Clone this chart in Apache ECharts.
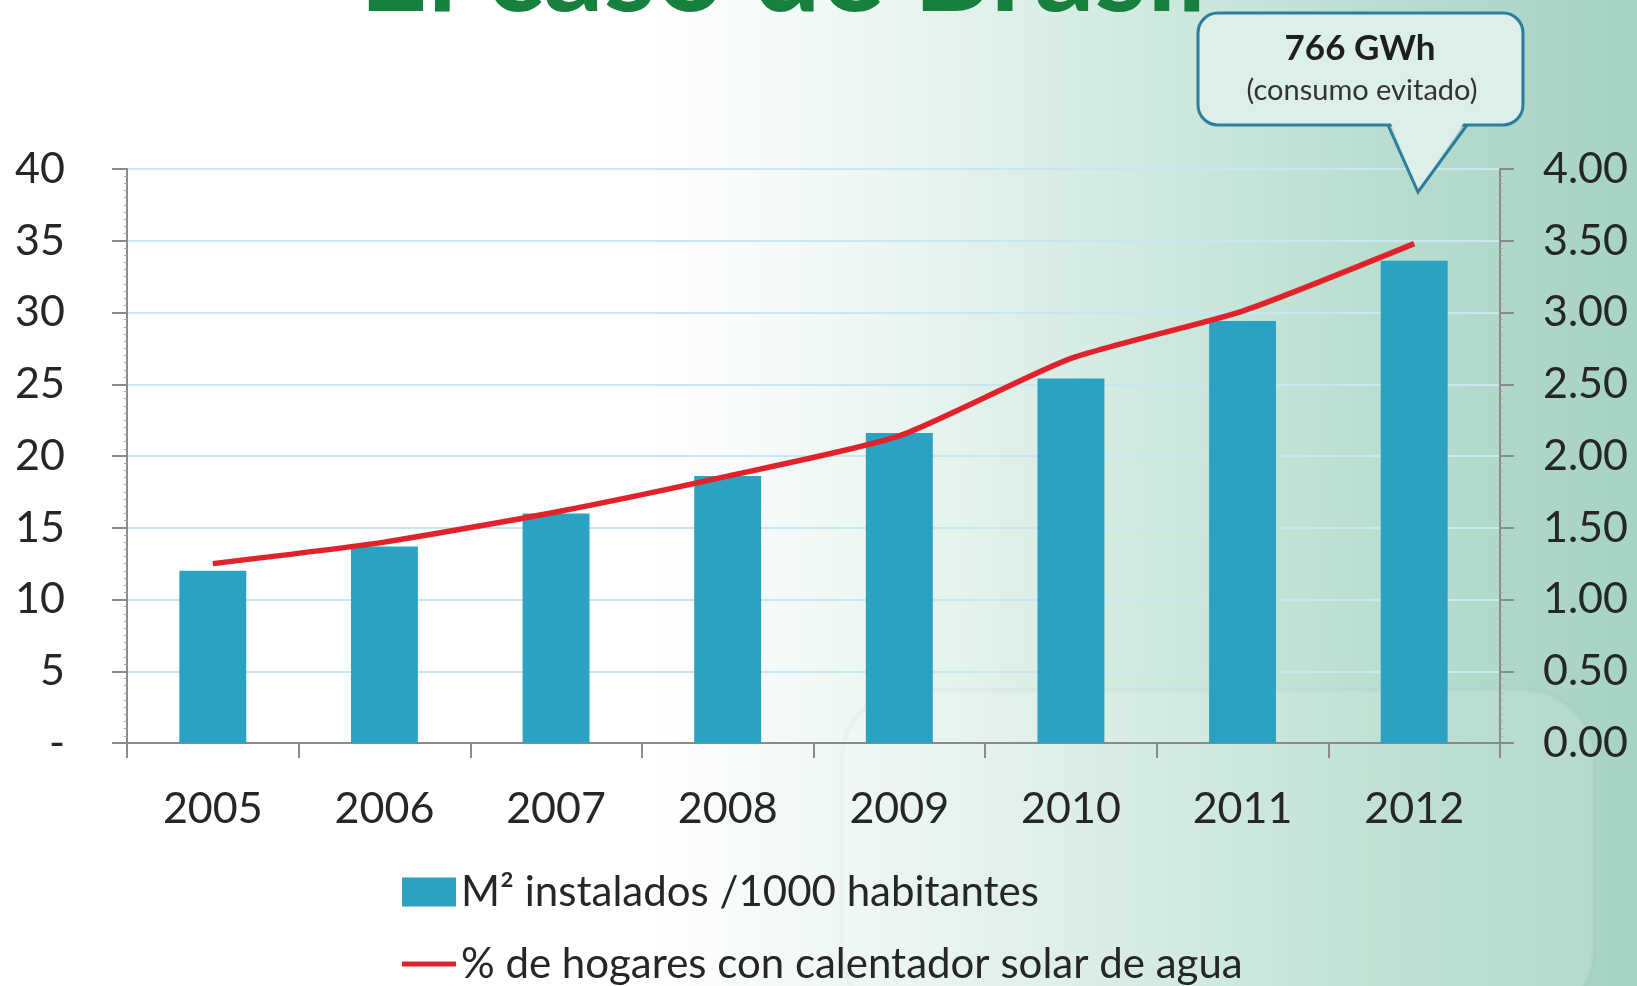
<!DOCTYPE html>
<html>
<head>
<meta charset="utf-8">
<script src="https://cdn.jsdelivr.net/npm/echarts@6/dist/echarts.min.js"></script>
<style>
  html, body { margin: 0; padding: 0; width: 1637px; height: 986px; overflow: hidden; }
  body {
    background: linear-gradient(90deg, #ffffff 0%, #ffffff 40%, #eef7f3 52%, #d4ebe2 68%, #b6dccd 86%, #a6d3c2 100%);
  }
  #chart { width: 1637px; height: 986px; }
</style>
</head>
<body>
<div id="chart"></div>
<script>
// Years on the category axis
const years = ['2005', '2006', '2007', '2008', '2009', '2010', '2011', '2012'];
// Installed m² of solar collectors per 1000 inhabitants (left axis)
const m2PerThousand = [12.0, 13.7, 16.0, 18.6, 21.6, 25.4, 29.4, 33.6];
// Share of households with a solar water heater, % (right axis)
const householdsPct = [1.25, 1.40, 1.61, 1.86, 2.14, 2.68, 3.01, 3.48];

const barName = 'M² instalados /1000 habitantes';
const lineName = '% de hogares con calentador solar de agua';

const FONT = 'Lato, "Open Sans", sans-serif';
const TEXT = '#262626';
const AXIS = '#8a8a8a';
const BUBBLE_FILL = '#dcefeb';
const BUBBLE_EDGE = '#2d7d9c';

const legendBase = {
  orient: 'horizontal',
  left: 397,
  itemWidth: 54,
  itemHeight: 29,
  textStyle: { fontFamily: FONT, fontSize: 42, color: TEXT }
};

const chart = echarts.init(document.getElementById('chart'), null, { renderer: 'canvas' });

chart.setOption({
  backgroundColor: 'transparent',
  animation: false,
  textStyle: { fontFamily: FONT },
  grid: { left: 127, right: 137, top: 169, bottom: 243, containLabel: false },
  legend: [
    Object.assign({}, legendBase, { top: 866, data: [{ name: barName, icon: 'rect' }] }),
    Object.assign({}, legendBase, { top: 938, data: [{ name: lineName, icon: 'path://M0,0 L54,0 L54,5 L0,5 Z' }] })
  ],
  xAxis: {
    type: 'category',
    data: years,
    axisLine: { lineStyle: { color: AXIS, width: 2 } },
    axisTick: { show: true, length: 15, lineStyle: { color: AXIS, width: 2 } },
    axisLabel: { fontFamily: FONT, fontSize: 43, color: TEXT, margin: 45 },
    splitLine: { show: false }
  },
  yAxis: [
    {
      type: 'value',
      min: 0, max: 40, interval: 5,
      position: 'left',
      axisLine: { show: true, lineStyle: { color: AXIS, width: 2 } },
      axisTick: { show: true, length: 15, lineStyle: { color: AXIS, width: 2 } },
      minorTick: { show: true, splitNumber: 10, length: 3, lineStyle: { color: '#a8a8a8', width: 1 } },
      axisLabel: {
        fontFamily: FONT, fontSize: 43, color: TEXT, margin: 62,
        formatter: v => (v === 0 ? '-' : String(v))
      },
      splitLine: { show: true, lineStyle: { color: '#cae6ef', width: 2 } }
    },
    {
      type: 'value',
      min: 0, max: 4, interval: 0.5,
      position: 'right',
      axisLine: { show: true, lineStyle: { color: AXIS, width: 2 } },
      axisTick: { show: true, length: 14, lineStyle: { color: AXIS, width: 2 } },
      minorTick: { show: true, splitNumber: 10, length: 3, lineStyle: { color: '#a8a8a8', width: 1 } },
      axisLabel: {
        fontFamily: FONT, fontSize: 43, color: TEXT, margin: 43,
        formatter: v => v.toFixed(2)
      },
      splitLine: { show: false }
    }
  ],
  series: [
    {
      name: barName,
      type: 'bar',
      yAxisIndex: 0,
      data: m2PerThousand,
      barWidth: '39%',
      itemStyle: { color: '#2ba2c1' },
      z: 2
    },
    {
      name: lineName,
      type: 'line',
      yAxisIndex: 1,
      data: householdsPct,
      smooth: 0.2,
      showSymbol: false,
      symbol: 'none',
      lineStyle: { color: '#e2222b', width: 5.5 },
      itemStyle: { color: '#e2222b' },
      z: 3
    }
  ],
  graphic: [
    // Faint tank silhouette in the lower right of the slide background
    {
      type: 'rect',
      shape: { x: 842, y: 690, width: 752, height: 330, r: 70 },
      style: { fill: 'rgba(255,255,255,0.12)', stroke: 'rgba(120,140,135,0.05)', lineWidth: 5 },
      z: -10,
      silent: true
    },
    // Slide heading, partly above the top edge
    {
      type: 'text',
      x: 783,
      y: -27,
      style: {
        text: 'El caso de Brasil',
        align: 'center', verticalAlign: 'middle',
        font: 'bold 119px Lato, "Open Sans", sans-serif',
        fill: '#17803f'
      },
      z: 10
    },
    // Callout bubble pointing at the 2012 value
    {
      type: 'rect',
      shape: { x: 1198, y: 13, width: 325, height: 112, r: 20 },
      style: { fill: BUBBLE_FILL, stroke: BUBBLE_EDGE, lineWidth: 3 },
      z: 10
    },
    {
      type: 'polygon',
      shape: { points: [[1390, 121], [1465, 121], [1418, 192]] },
      style: { fill: BUBBLE_FILL },
      z: 11
    },
    {
      type: 'polyline',
      shape: { points: [[1388, 125], [1418, 192], [1467, 125]] },
      style: { stroke: BUBBLE_EDGE, lineWidth: 3, fill: null },
      z: 11
    },
    {
      type: 'text',
      x: 1360,
      y: 49,
      style: {
        text: '766 GWh',
        align: 'center', verticalAlign: 'middle',
        font: 'bold 35px Lato, "Open Sans", sans-serif', fill: '#1e1e1e'
      },
      z: 12
    },
    {
      type: 'text',
      x: 1362,
      y: 91,
      style: {
        text: '(consumo evitado)',
        align: 'center', verticalAlign: 'middle',
        font: '29px Lato, "Open Sans", sans-serif', fill: '#333333'
      },
      z: 12
    }
  ]
});
</script>
</body>
</html>
